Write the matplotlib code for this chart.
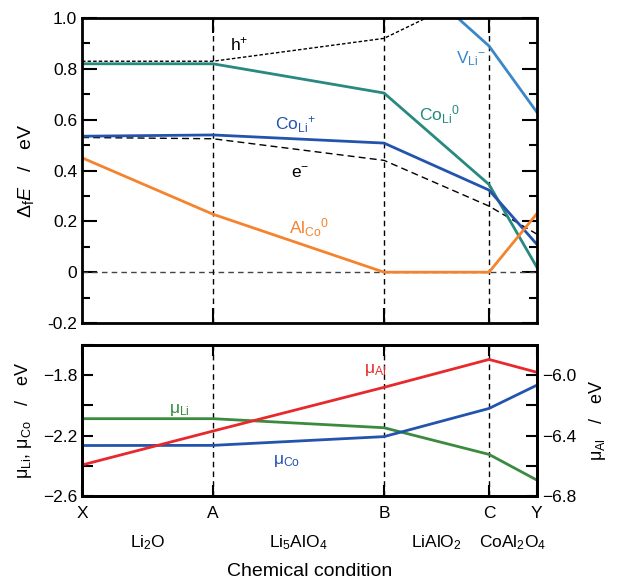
import numpy as np
import matplotlib
matplotlib.use("Agg")
import matplotlib.pyplot as plt
from matplotlib.ticker import MultipleLocator, FixedLocator

plt.rcParams["font.family"] = ["Liberation Sans", "DejaVu Sans"]
plt.rcParams["mathtext.fontset"] = "custom"
plt.rcParams["mathtext.rm"] = "Liberation Sans"
plt.rcParams["mathtext.it"] = "Liberation Sans:italic"
plt.rcParams["mathtext.sf"] = "Liberation Sans"

# chemical conditions along the path X -> A -> B -> C -> Y
conditions = ["X", "A", "B", "C", "Y"]
cond_pos = [0.0, 0.288, 0.664, 0.895, 1.0]
phases = ["Li$_2$O", "Li$_5$AlO$_4$", "LiAlO$_2$", "CoAl$_2$O$_4$"]

# formation energies (eV)
h_plus = [0.83, 0.83, 0.92, 1.12, 1.30]
e_minus = [0.53, 0.525, 0.44, 0.26, 0.15]
co_li_0 = [0.82, 0.82, 0.705, 0.345, 0.02]
co_li_plus = [0.535, 0.54, 0.508, 0.323, 0.11]
v_li_minus = [1.60, 1.45, 1.26, 0.89, 0.63]
al_co_0 = [0.45, 0.228, 0.0, 0.0, 0.23]

# chemical potentials (eV)
mu_li = [-2.088, -2.088, -2.148, -2.325, -2.495]
mu_co = [-2.266, -2.265, -2.207, -2.02, -1.866]
mu_al = [-6.595, -6.37, -6.08, -5.895, -5.98]

C_TEAL = "#27897f"
C_BLUE = "#2354ad"
C_LBLUE = "#3b87c9"
C_ORANGE = "#f5832e"
C_RED = "#e8282b"
C_GREEN = "#3b8a3f"

fig = plt.figure(figsize=(6.17, 5.82), dpi=100)
ax1 = fig.add_axes([0.133, 0.445, 0.737, 0.524])
ax2 = fig.add_axes([0.133, 0.148, 0.737, 0.259])
ax3 = ax2.twinx()

# ── Top panel ─────────────────────────────────────────────────────────────
ax1.axhline(0, color="#444444", lw=1, ls=(0, (4, 3)))
for xp in cond_pos[1:4]:
    ax1.axvline(xp, color="black", lw=1, ls=(0, (4, 3)))
ax1.plot(cond_pos, h_plus, color="black", lw=1, ls=(0, (2.5, 1.5)))
ax1.plot(cond_pos, e_minus, color="black", lw=1, ls=(0, (5, 3)))
ax1.plot(cond_pos, v_li_minus, color=C_LBLUE, lw=2)
ax1.plot(cond_pos, co_li_0, color=C_TEAL, lw=2)
ax1.plot(cond_pos, co_li_plus, color=C_BLUE, lw=2)
ax1.plot(cond_pos, al_co_0, color=C_ORANGE, lw=2)

ax1.set_xlim(0, 1)
ax1.set_ylim(-0.2, 1.0)
ax1.yaxis.set_major_locator(MultipleLocator(0.2))
ax1.yaxis.set_minor_locator(MultipleLocator(0.1))
ax1.yaxis.set_major_formatter(plt.FuncFormatter(lambda v, p: "0" if abs(v) < 1e-9 else f"{v:.1f}"))
ax1.xaxis.set_major_locator(FixedLocator(cond_pos[1:4]))
ax1.tick_params(axis="x", which="both", labelbottom=False, top=True, bottom=True,
                direction="in", length=11, width=1.5)
ax1.tick_params(axis="y", which="major", direction="in", length=11, width=1.5,
                right=True, labelsize=12.5)
ax1.tick_params(axis="y", which="minor", direction="in", length=6, width=1.5, right=True)
ax1.set_ylabel(r"$\Delta_{\mathrm{f}}E$   /   eV", fontsize=14, labelpad=8)

kw = dict(fontsize=12.5)
ax1.text(0.345, 0.875, "h$^{+}$", color="black", ha="center", **kw)
ax1.text(0.47, 0.56, "Co$_{\\mathrm{Li}}$$^{+}$", color=C_BLUE, ha="center", **kw)
ax1.text(0.48, 0.37, "e$^{-}$", color="black", ha="center", **kw)
ax1.text(0.50, 0.15, "Al$_{\\mathrm{Co}}$$^{0}$", color=C_ORANGE, ha="center", **kw)
ax1.text(0.785, 0.595, "Co$_{\\mathrm{Li}}$$^{0}$", color=C_TEAL, ha="center", **kw)
ax1.text(0.855, 0.82, "V$_{\\mathrm{Li}}$$^{-}$", color=C_LBLUE, ha="center", **kw)

# ── Bottom panel ──────────────────────────────────────────────────────────
for xp in cond_pos[1:4]:
    ax2.axvline(xp, color="black", lw=1, ls=(0, (4, 3)))
ax2.plot(cond_pos, mu_li, color=C_GREEN, lw=2)
ax2.plot(cond_pos, mu_co, color=C_BLUE, lw=2)
ax3.plot(cond_pos, mu_al, color=C_RED, lw=2)

ax2.set_xlim(0, 1)
ax2.set_ylim(-2.6, -1.6)
ax3.set_ylim(-6.8, -5.8)
ax2.yaxis.set_major_locator(FixedLocator([-2.6, -2.2, -1.8]))
ax2.yaxis.set_minor_locator(FixedLocator([-2.4, -2.0, -1.6]))
ax3.yaxis.set_major_locator(FixedLocator([-6.8, -6.4, -6.0]))
ax3.yaxis.set_minor_locator(FixedLocator([-6.6, -6.2]))
ax2.set_xticks(cond_pos)
ax2.set_xticklabels(conditions)
ax2.tick_params(axis="x", which="both", direction="in", length=8, width=1.5,
                top=True, labelsize=12.5, pad=7)
ax2.tick_params(axis="y", which="both", direction="in", length=8, width=1.5, labelsize=12.5)
ax3.tick_params(axis="y", which="both", direction="in", length=8, width=1.5, labelsize=12.5)
ax2.set_ylabel("μ$_{\\mathrm{Li}}$, μ$_{\\mathrm{Co}}$   /   eV", fontsize=13, labelpad=6)
ax3.set_ylabel("μ$_{\\mathrm{Al}}$   /   eV", fontsize=13, labelpad=8)

ax3.text(0.645, -5.985, "μ$_{\\mathrm{Al}}$", color=C_RED, ha="center", **kw)
ax2.text(0.215, -2.05, "μ$_{\\mathrm{Li}}$", color=C_GREEN, ha="center", **kw)
ax2.text(0.45, -2.39, "μ$_{\\mathrm{Co}}$", color=C_BLUE, ha="center", **kw)

for ax in (ax1, ax2, ax3):
    for s in ax.spines.values():
        s.set_linewidth(2)

# phase labels and x title
mids = [(cond_pos[i] + cond_pos[i + 1]) / 2 for i in range(4)]
for m, ph in zip(mids, phases):
    ax2.text(m, -0.31, ph, transform=ax2.get_xaxis_transform(), ha="center",
             va="center", fontsize=12.5)
ax2.text(0.5, -0.50, "Chemical condition", transform=ax2.transAxes, ha="center",
         va="center", fontsize=14)

fig.savefig("out.png", dpi=100)
